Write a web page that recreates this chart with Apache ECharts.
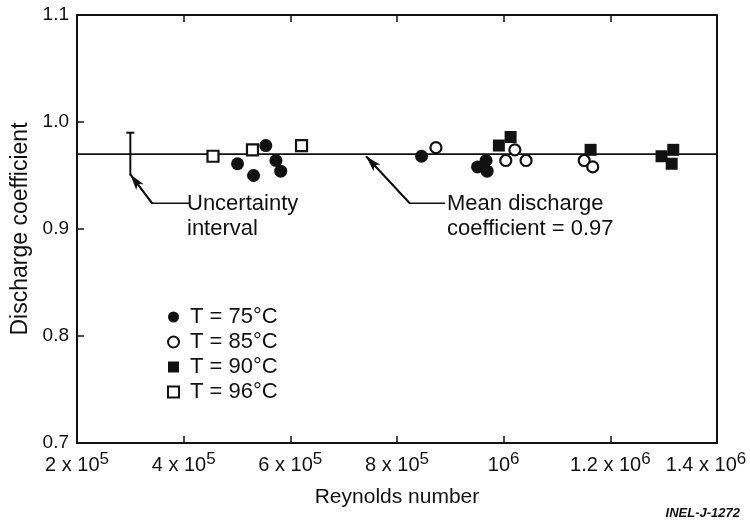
<!DOCTYPE html>
<html>
<head>
<meta charset="utf-8">
<script src="https://cdn.jsdelivr.net/npm/echarts@6/dist/echarts.min.js"></script>
<style>
  html, body { margin: 0; padding: 0; background: #fff; }
  #chart { width: 750px; height: 528px; }
</style>
</head>
<body>
<div id="chart"></div>
<script>
const xTicks = [200000, 400000, 600000, 800000, 1000000, 1200000, 1400000];
const xTickMantissa = ["2 x 10", "4 x 10", "6 x 10", "8 x 10", "10", "1.2 x 10", "1.4 x 10"];
const xTickExp = ["5", "5", "5", "5", "6", "6", "6"];
const yTicks = [0.7, 0.8, 0.9, 1.0, 1.1];

// [Reynolds number, discharge coefficient]
const t75 = [[501000, 0.961], [531000, 0.950], [554000, 0.978], [573000, 0.964], [582000, 0.954],
             [846000, 0.968], [951000, 0.958], [967000, 0.964], [969000, 0.954]];
const t85 = [[873000, 0.976], [1004000, 0.964], [1021000, 0.974], [1042000, 0.964],
             [1151000, 0.964], [1167000, 0.958]];
const t90 = [[991000, 0.978], [1013000, 0.986], [1163000, 0.974], [1296000, 0.968],
             [1318000, 0.974], [1315000, 0.961]];
const t96 = [[455000, 0.968], [529000, 0.974], [621000, 0.978]];

const meanCd = 0.97;
const uncertainty = [[300000, 0.95, 0.99]]; // x, low, high

// annotation leaders: text end -> bend -> arrow tip
const uncLeader = [[412000, 0.924], [341000, 0.924], [300000, 0.951]];
const meanLeader = [[890000, 0.924], [824000, 0.924], [742000, 0.968]];

const seriesNames = ["T = 75°C", "T = 85°C", "T = 90°C", "T = 96°C"];

const FONT = "Liberation Sans";
const INK = "#111";

const chart = echarts.init(document.getElementById("chart"), null, { renderer: "canvas" });

// last label sits a little left of its tick in the print
const labelShift = { 1400000: 22 };

function leader(name, pts) {
  return {
    name: name,
    type: "line",
    data: pts,
    showSymbol: false,
    silent: true,
    lineStyle: { color: INK, width: 1.6 },
    z: 3,
    markLine: {
      silent: true,
      symbol: ["none", "arrow"],
      symbolSize: [7, 16],
      label: { show: false },
      lineStyle: { color: INK, width: 2, type: "solid" },
      data: [[{ coord: pts[1] }, { coord: pts[2] }]]
    }
  };
}

const option = {
  animation: false,
  backgroundColor: "#fff",
  textStyle: { fontFamily: FONT, color: INK },
  grid: { left: 77, right: 33, top: 15, bottom: 85, containLabel: false, outerBoundsMode: "none" },
  legend: {
    data: seriesNames,
    orient: "vertical",
    left: 162,
    top: 301,
    itemWidth: 11,
    itemHeight: 11,
    itemGap: 3,
    textStyle: { fontFamily: FONT, fontSize: 22, color: INK, padding: [0, 0, 0, 6] }
  },
  xAxis: [
    {
      type: "value",
      min: 200000,
      max: 1400000,
      interval: 200000,
      name: "Reynolds number",
      nameLocation: "middle",
      nameGap: 44,
      nameTextStyle: { fontFamily: FONT, fontSize: 21, color: INK },
      axisLine: { lineStyle: { color: INK, width: 2 } },
      axisTick: { inside: true, length: 7, lineStyle: { color: INK, width: 1.5 } },
      splitLine: { show: false },
      axisLabel: {
        margin: 8,
        showMinLabel: true,
        showMaxLabel: true,
        hideOverlap: false,
        formatter: function (v) {
          const i = xTicks.indexOf(v);
          if (i < 0) return "";
          let s = "{m|" + xTickMantissa[i] + "}{e|" + xTickExp[i] + "}";
          if (labelShift[v]) s += "{p| }";
          return s;
        },
        rich: {
          m: { fontFamily: FONT, fontSize: 20, color: INK, lineHeight: 24, verticalAlign: "bottom" },
          e: { fontFamily: FONT, fontSize: 17, color: INK, lineHeight: 24, verticalAlign: "top" },
          p: { width: 22, fontSize: 10 }
        }
      }
    },
    {
      type: "value",
      position: "top",
      min: 200000,
      max: 1400000,
      interval: 200000,
      axisLine: { show: true, lineStyle: { color: INK, width: 2 } },
      axisTick: { show: true, inside: true, length: 7, lineStyle: { color: INK, width: 1.5 } },
      axisLabel: { show: false },
      splitLine: { show: false }
    }
  ],
  yAxis: [
    {
      type: "value",
      min: 0.7,
      max: 1.1,
      interval: 0.1,
      name: "Discharge coefficient",
      nameLocation: "middle",
      nameGap: 30,
      nameTextStyle: { fontFamily: FONT, fontSize: 23, color: INK },
      axisLine: { show: true, lineStyle: { color: INK, width: 2 } },
      axisTick: { show: true, inside: true, length: 7, lineStyle: { color: INK, width: 1.5 } },
      splitLine: { show: false },
      axisLabel: {
        margin: 8,
        fontFamily: FONT,
        fontSize: 19,
        color: INK,
        formatter: function (v) {
          const hit = yTicks.find(t => Math.abs(t - v) < 1e-6);
          return hit === undefined ? "" : hit.toFixed(1);
        }
      }
    },
    {
      type: "value",
      position: "right",
      min: 0.7,
      max: 1.1,
      interval: 0.1,
      axisLine: { show: true, lineStyle: { color: INK, width: 2 } },
      axisTick: { show: false },
      axisLabel: { show: false },
      splitLine: { show: false }
    }
  ],
  series: [
    {
      name: "mean",
      type: "line",
      data: [[200000, meanCd], [1400000, meanCd]],
      showSymbol: false,
      silent: true,
      lineStyle: { color: INK, width: 1.8 },
      z: 2
    },
    {
      name: "uncertainty",
      type: "custom",
      data: uncertainty,
      silent: true,
      z: 3,
      renderItem: function (params, api) {
        const lo = api.coord([api.value(0), api.value(1)]);
        const hi = api.coord([api.value(0), api.value(2)]);
        return {
          type: "group",
          children: [
            { type: "line", shape: { x1: lo[0], y1: lo[1], x2: hi[0], y2: hi[1] },
              style: { stroke: INK, lineWidth: 2 } },
            { type: "line", shape: { x1: hi[0] - 4, y1: hi[1], x2: hi[0] + 4, y2: hi[1] },
              style: { stroke: INK, lineWidth: 2 } }
          ]
        };
      }
    },
    leader("uncLeader", uncLeader),
    leader("meanLeader", meanLeader),
    {
      name: seriesNames[0],
      type: "scatter",
      data: t75,
      symbol: "circle",
      symbolSize: 13,
      itemStyle: { color: INK, opacity: 1 },
      z: 5
    },
    {
      name: seriesNames[1],
      type: "scatter",
      data: t85,
      symbol: "circle",
      symbolSize: 11,
      itemStyle: { color: "#fff", borderColor: INK, borderWidth: 2.2, opacity: 1 },
      z: 5
    },
    {
      name: seriesNames[2],
      type: "scatter",
      data: t90,
      symbol: "rect",
      symbolSize: 12,
      itemStyle: { color: INK, opacity: 1 },
      z: 5
    },
    {
      name: seriesNames[3],
      type: "scatter",
      data: t96,
      symbol: "rect",
      symbolSize: 11,
      itemStyle: { color: "#fff", borderColor: INK, borderWidth: 2.2, opacity: 1 },
      z: 5
    }
  ],
  graphic: [
    {
      type: "text", left: 187, top: 191,
      style: { text: "Uncertainty\ninterval", font: "22px '" + FONT + "'", fill: INK, lineHeight: 25 }
    },
    {
      type: "text", left: 447, top: 191,
      style: { text: "Mean discharge\ncoefficient = 0.97", font: "22px '" + FONT + "'", fill: INK, lineHeight: 25 }
    },
    {
      type: "text", right: 10, top: 507,
      style: { text: "INEL-J-1272", font: "italic bold 13px '" + FONT + "'", fill: INK }
    }
  ]
};

chart.setOption(option);
</script>
</body>
</html>
